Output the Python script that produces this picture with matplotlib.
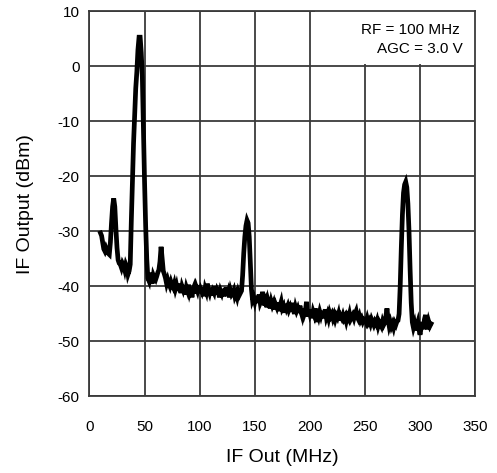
import matplotlib
matplotlib.use('Agg')
import matplotlib.pyplot as plt
from matplotlib.patches import Rectangle

plt.rcParams['font.family'] = ['Liberation Sans', 'DejaVu Sans']

# IF output spectrum, 1 MHz steps from 10 to 310 MHz
freq_mhz = list(range(10, 311))
level_dbm = [
    -30.3, -30.8, -32.0, -33.2, -33.6, -33.0, -33.5, -34.0, -34.2, -32.0,   # 10
    -28.5, -25.5, -24.0, -25.5, -29.5, -33.0, -35.2, -35.8, -36.0, -36.6,   # 20
    -35.8, -36.2, -37.0, -36.0, -36.5, -37.8, -37.2, -36.0, -28.0, -21.0,   # 30
    -14.0, -9.0, -4.0, -1.0, 3.0, 5.3, 5.3, 2.5, -2.0, -12.0,               # 40
    -21.0, -29.0, -35.0, -38.5, -39.0, -37.5, -38.8, -39.5, -38.0, -38.5,   # 50
    -38.8, -38.2, -37.5, -37.0, -35.5, -32.8, -35.0, -37.2, -37.8, -38.5,   # 60
    -39.5, -38.8, -39.5, -40.0, -39.2, -39.8, -40.2, -39.5, -40.5, -39.8,   # 70
    -40.8, -39.5, -40.3, -41.2, -40.0, -40.6, -39.8, -41.5, -40.2, -40.8,   # 80
    -39.7, -41.0, -40.3, -42.0, -40.5, -40.0, -41.3, -40.2, -40.8, -39.8,   # 90
    -41.2, -40.5, -41.0, -40.2, -41.8, -40.4, -41.0, -39.5, -40.6, -41.2,   # 100
    -40.3, -41.6, -40.8, -41.2, -40.0, -41.5, -40.6, -41.0, -42.0, -40.8,   # 110
    -41.3, -40.5, -41.8, -41.0, -40.2, -41.7, -41.0, -42.0, -40.8, -41.5,   # 120
    -41.2, -40.7, -41.8, -41.3, -42.0, -41.0, -41.6, -41.2, -40.8, -38.0,   # 130
    -34.0, -31.0, -29.0, -28.0, -28.5, -31.0, -36.0, -40.5, -42.5, -42.0,   # 140
    -42.8, -41.8, -43.0, -42.2, -41.5, -43.0, -42.5, -41.0, -42.0, -43.5,   # 150
    -42.8, -43.8, -42.5, -43.2, -44.0, -42.8, -43.5, -43.0, -44.2, -43.3,   # 160
    -43.8, -43.0, -44.5, -43.5, -42.8, -44.0, -43.6, -44.8, -43.2, -44.0,   # 170
    -43.5, -44.3, -43.8, -44.6, -43.0, -44.2, -45.0, -43.8, -44.5, -44.0,   # 180
    -44.8, -43.5, -44.6, -45.3, -44.0, -45.0, -44.4, -42.8, -45.5, -44.2,   # 190
    -45.0, -44.3, -45.8, -44.6, -45.2, -44.0, -46.5, -44.8, -45.5, -44.6,   # 200
    -45.3, -44.5, -45.8, -45.0, -44.2, -45.6, -45.0, -45.8, -44.8, -45.4,   # 210
    -45.0, -45.8, -45.2, -46.0, -45.3, -45.7, -45.0, -46.2, -45.4, -45.8,   # 220
    -45.2, -45.9, -45.5, -46.3, -45.4, -45.8, -45.0, -46.0, -45.6, -45.2,   # 230
    -45.8, -45.0, -44.5, -45.6, -46.0, -45.4, -46.2, -45.8, -46.4, -45.9,   # 240
    -46.0, -46.5, -45.8, -46.6, -46.2, -46.8, -46.0, -46.5, -47.0, -46.4,   # 250
    -46.8, -46.2, -47.2, -46.5, -46.9, -47.3, -46.4, -47.0, -46.6, -45.5,   # 260
    -44.0, -46.0, -47.2, -46.5, -47.3, -46.8, -47.5, -46.6, -47.0, -46.4,   # 270
    -46.2, -45.0, -40.0, -33.0, -27.0, -23.0, -21.5, -21.0, -22.0, -25.0,   # 280
    -30.0, -37.0, -43.0, -46.5, -47.5, -46.8, -48.0, -47.2, -46.5, -47.8,   # 290
    -48.8, -47.5, -46.5, -47.8, -46.0, -45.2, -47.0, -47.8, -46.5, -47.2,   # 300
    -46.8,                                                                  # 310
]

x_ticks = [0, 50, 100, 150, 200, 250, 300, 350]
y_ticks = [10, 0, -10, -20, -30, -40, -50, -60]
notes = ['RF = 100 MHz', 'AGC = 3.0 V']

grid_col = '#3a3a3a'

fig = plt.figure(figsize=(4.97, 4.73), dpi=100)
ax = fig.add_axes([0.180, 0.162, 0.776, 0.814])

ax.plot(freq_mhz, level_dbm, color='black', lw=3.4, solid_joinstyle='miter',
        zorder=3)

ax.set_xlim(0, 350)
ax.set_ylim(-60, 10)
ax.set_xticks(x_ticks)
ax.set_yticks(y_ticks)
ax.set_xticklabels([str(v) for v in x_ticks])
ax.set_yticklabels([str(v) for v in y_ticks])
ax.tick_params(axis='x', length=0, pad=17, labelsize=11)
ax.tick_params(axis='y', length=0, pad=7, labelsize=11)

ax.grid(True, color=grid_col, lw=1.3)
ax.set_axisbelow(True)
for s in ax.spines.values():
    s.set_color(grid_col)
    s.set_linewidth(1.3)

# white box behind the annotation, masking the grid
ax.add_patch(Rectangle((0.586, 0.862), 0.414, 0.138, transform=ax.transAxes,
                       facecolor='white', edgecolor='none', zorder=1))
ax.text(0.961, 0.952, notes[0], transform=ax.transAxes, ha='right',
        va='center', fontsize=11, zorder=4)
ax.text(0.969, 0.903, notes[1], transform=ax.transAxes, ha='right',
        va='center', fontsize=11, zorder=4)

ax.set_xlabel('IF Out (MHz)', fontsize=14)
ax.set_ylabel('IF Output (dBm)', fontsize=14)
ax.xaxis.set_label_coords(0.5, -0.16)
ax.xaxis.label.set_va('center')
ax.yaxis.set_label_coords(-0.167, 0.5)
ax.yaxis.label.set_va('center')

fig.savefig('out.png', dpi=100)
